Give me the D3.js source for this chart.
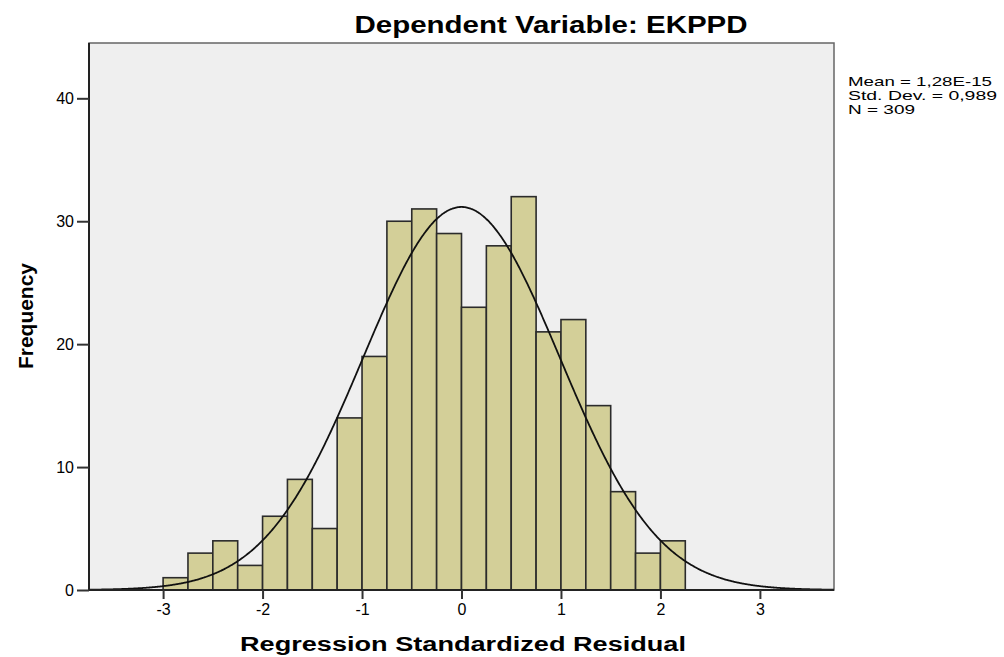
<!DOCTYPE html>
<html>
<head>
<meta charset="utf-8">
<script src="https://cdn.jsdelivr.net/npm/d3@7"></script>
<style>
  body { margin: 0; background: #fff; }
  text { font-family: "Liberation Sans", Arial, sans-serif; fill: #000; }
</style>
</head>
<body>
<svg id="chart" width="1004" height="657"></svg>
<script>
// histogram bins (lower edges) and counts
const binStart = [-3, -2.75, -2.5, -2.25, -2, -1.75, -1.5, -1.25, -1, -0.75, -0.5, -0.25, 0, 0.25, 0.5, 0.75, 1, 1.25, 1.5, 1.75, 2];
const counts = [1, 3, 4, 2, 6, 9, 5, 14, 19, 30, 31, 29, 23, 28, 32, 21, 22, 15, 8, 3, 4];
const binWidth = 0.25;
const xTicks = [-3, -2, -1, 0, 1, 2, 3];
const yTicks = [0, 10, 20, 30, 40];
const statLines = ["Mean = 1,28E-15", "Std. Dev. = 0,989", "N = 309"];
const statWidths = [144, 149, 67];
const mean = 1.28e-15, sd = 0.989, n = 309;

const svg = d3.select("#chart");
const box = {left: 89, top: 43, right: 834, bottom: 590};

const x = d3.scaleLinear().domain([-3.745, 3.745]).range([box.left, box.right]);
const y = d3.scaleLinear().domain([0, 44.5]).range([box.bottom, box.top]);

// plot background
svg.append("rect").attr("x", box.left).attr("y", box.top)
  .attr("width", box.right - box.left).attr("height", box.bottom - box.top)
  .attr("fill", "#efefef").attr("stroke", "#666").attr("stroke-width", 1.5);

// bars
svg.selectAll("rect.bar").data(counts).join("rect").attr("class", "bar")
  .attr("x", (d, i) => x(binStart[i]))
  .attr("y", d => y(d))
  .attr("width", (d, i) => x(binStart[i] + binWidth) - x(binStart[i]))
  .attr("height", d => y(0) - y(d))
  .attr("fill", "#d3cf98").attr("stroke", "#2b2b2b").attr("stroke-width", 1.6);

// normal curve from the stated mean / sd / N
const pts = d3.range(-3.745, 3.746, 0.01).map(v => [v,
  n * binWidth / (sd * Math.sqrt(2 * Math.PI)) * Math.exp(-0.5 * ((v - mean) / sd) ** 2)]);
svg.append("path").datum(pts)
  .attr("d", d3.line().x(d => x(d[0])).y(d => y(d[1])).curve(d3.curveBasis))
  .attr("fill", "none").attr("stroke", "#111").attr("stroke-width", 1.8);

// axes (plain hyphen for minus, like the original)
const fmt = d => String(d);
const xAxis = svg.append("g").attr("transform", `translate(0,${box.bottom})`)
  .call(d3.axisBottom(x).tickValues(xTicks).tickSize(9).tickPadding(5).tickFormat(fmt));
const yAxis = svg.append("g").attr("transform", `translate(${box.left},0)`)
  .call(d3.axisLeft(y).tickValues(yTicks).tickSize(12).tickPadding(3).tickFormat(fmt));
[xAxis, yAxis].forEach(g => {
  g.select(".domain").attr("stroke", "#222").attr("stroke-width", 2);
  g.selectAll(".tick line").attr("stroke", "#333").attr("stroke-width", 2);
  g.selectAll(".tick text").attr("font-size", 16).attr("fill", "#222")
    .style("font-family", "'Liberation Sans', Arial, sans-serif");
});
xAxis.select(".domain").attr("d", `M${box.left},0H${box.right}`);
yAxis.select(".domain").attr("d", `M0,${box.top}V${box.bottom}`);

// titles
svg.append("text").attr("x", 551).attr("y", 33).attr("text-anchor", "middle")
  .attr("font-size", 23).attr("font-weight", "bold")
  .attr("textLength", 393).attr("lengthAdjust", "spacingAndGlyphs")
  .text("Dependent Variable: EKPPD");

svg.append("text").attr("x", 463).attr("y", 651).attr("text-anchor", "middle")
  .attr("font-size", 20).attr("font-weight", "bold")
  .attr("textLength", 446).attr("lengthAdjust", "spacingAndGlyphs")
  .text("Regression Standardized Residual");

svg.append("text").attr("transform", "translate(33,316) rotate(-90)")
  .attr("text-anchor", "middle").attr("font-size", 20).attr("font-weight", "bold")
  .attr("textLength", 106).attr("lengthAdjust", "spacingAndGlyphs")
  .text("Frequency");

// stats box
svg.selectAll("text.stat").data(statLines).join("text").attr("class", "stat")
  .attr("x", 848).attr("y", (d, i) => 86 + i * 14)
  .attr("font-size", 13.5).attr("fill", "#222")
  .attr("textLength", (d, i) => statWidths[i]).attr("lengthAdjust", "spacingAndGlyphs")
  .text(d => d);
</script>
</body>
</html>
